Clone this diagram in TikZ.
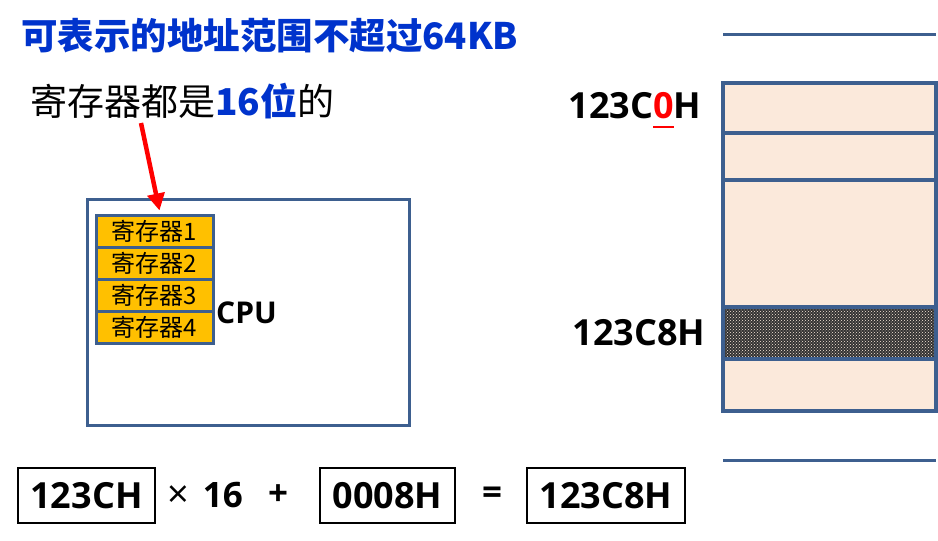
\documentclass[tikz,border=0pt]{standalone}
\usepackage{fontspec}
\setmainfont{Noto Sans CJK SC}
\newfontfamily\latin{Open Sans}
\usetikzlibrary{patterns,arrows.meta}
\definecolor{titleblue}{RGB}{0,51,204}
\definecolor{frameblue}{RGB}{61,95,143}
\definecolor{peach}{RGB}{251,233,219}
\definecolor{gold}{RGB}{255,192,0}
\definecolor{red}{RGB}{255,0,0}
% red digit with a red bar under it
\newcommand{\ulred}[1]{\textcolor{red}{\setbox0\hbox{#1}\rlap{\rule[-10pt]{\wd0}{2.2pt}}\box0}}

\begin{document}
\begin{tikzpicture}[x=1pt,y=-1pt]
    \tikzset{%
      reg/.style={rectangle, draw=frameblue, line width=3pt, fill=gold,
        minimum width=117pt, minimum height=32pt, inner sep=0pt,
        font=\fontsize{24}{24}\selectfont},
      cell/.style={rectangle, draw=frameblue, line width=3.2pt, fill=peach,
        minimum width=213pt, inner sep=0pt},
      addr/.style={inner sep=0pt, font=\latin\bfseries\fontsize{36}{36}\selectfont},
      term/.style={rectangle, draw, line width=1.2pt, minimum height=55pt,
        inner sep=0pt, font=\latin\bfseries\fontsize{36}{36}\selectfont},
      op/.style={inner sep=0pt, font=\latin\bfseries\fontsize{35}{35}\selectfont},
      frame/.style={draw=frameblue, line width=3pt},
    }
    \useasboundingbox (0,0) rectangle (938,541);

    % headings
    \node[anchor=west, inner sep=0pt, text=titleblue,
      font=\bfseries\fontsize{36.5}{36}\selectfont] (title) at (21,36)
      {可表示的地址范围不超过64KB};
    \node[anchor=west, inner sep=0pt, font=\fontsize{37}{37}\selectfont]
      (note) at (30,101) {寄存器都是\textcolor{titleblue}{\bfseries 16位}的};

    % cpu
    \node[frame, rectangle, minimum width=322pt, minimum height=226pt]
      (cpu) at (248,312) {};
    \node[reg] (R1) at (154.5,231) {寄存器1};
    \node[reg] (R2) at (154.5,263) {寄存器2};
    \node[reg] (R3) at (154.5,295) {寄存器3};
    \node[reg] (R4) at (154.5,327) {寄存器4};
    \node[anchor=west, inner sep=0pt,
      font=\latin\bfseries\fontsize{30}{30}\selectfont] (cpulabel) at (216,313) {CPU};

    \coordinate (tail) at (141,123);
    \draw[red, line width=4.5pt, -{Triangle[length=17pt,width=17pt]}]
      (tail) -- ([xshift=5pt,yshift=3pt]R1.north);

    % memory
    \draw[frame] (723,34) -- (936,34);
    \draw[frame] (723,460) -- (936,460);
    \node[cell, minimum height=50pt] (M1) at (829.5,108) {};
    \node[cell, minimum height=47pt] (M2) at (829.5,156.5) {};
    \node[cell, minimum height=127pt] (M3) at (829.5,243.5) {};
    \node[cell, minimum height=52pt, preaction={fill=black!80},
      pattern=crosshatch dots, pattern color=peach] (M4) at (829.5,333) {};
    \node[cell, minimum height=52pt] (M5) at (829.5,385) {};

    \node[addr] (A0) at (635,110) {123C\ulred{0}H};
    \node[addr] (A8) at (639,333) {123C8H};

    % bottom line
    \node[term, minimum width=137pt] (seg) at (86.5,495.5) {123CH};
    \node[op] (times) at (205,495.5) {\mdseries\fontsize{38}{38}\selectfont×\hspace{14pt}\bfseries\fontsize{35}{35}\selectfont16};
    \node[op] (plus) at (278,495.5) {+};
    \node[term, minimum width=135pt] (off) at (387.5,495.5) {0008H};
    \node[op] (eq) at (492,495.5) {=};
    \node[term, minimum width=158pt] (phys) at (606,495.5) {123C8H};
  \end{tikzpicture}
\end{document}
